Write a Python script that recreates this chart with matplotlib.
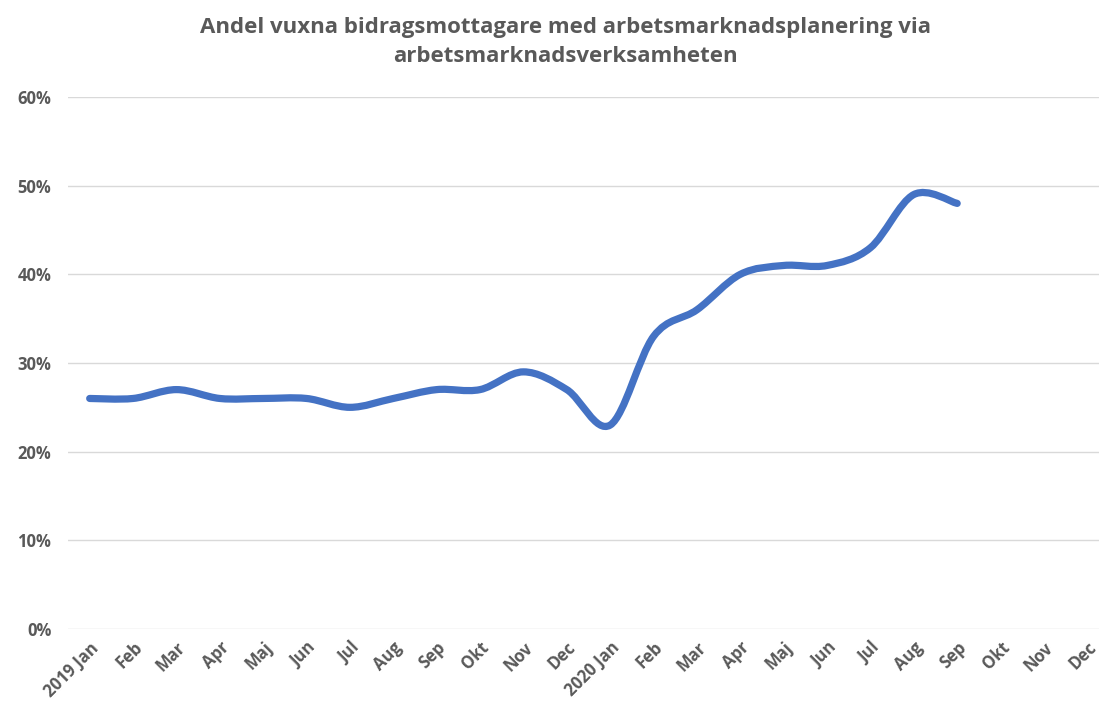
import numpy as np
import matplotlib
matplotlib.use("Agg")
import matplotlib.pyplot as plt
from matplotlib.path import Path
from matplotlib.patches import PathPatch
from matplotlib.ticker import PercentFormatter

# Data
months = ["Jan", "Feb", "Mar", "Apr", "Maj", "Jun", "Jul", "Aug", "Sep", "Okt", "Nov", "Dec"]
categories = ["2019 Jan"] + months[1:] + ["2020 Jan"] + months[1:]
share = [26, 26, 27, 26, 26, 26, 25, 26, 27, 27, 29, 27,
         23, 33, 36, 40, 41, 41, 43, 49, 48]
title = "Andel vuxna bidragsmottagare med arbetsmarknadsplanering via\narbetsmarknadsverksamheten"

GREY = "#595959"
BLUE = "#4472C4"

fig = plt.figure(figsize=(10.99, 7.16), dpi=100)
ax = fig.add_axes([68 / 1099, 87 / 716, (1109 - 68) / 1099, (629 - 97) / 716])

# smoothed line, Excel style (Catmull-Rom as cubic Bezier)
x = np.arange(len(share), dtype=float)
y = np.array(share, dtype=float)
verts = [(x[0], y[0])]
codes = [Path.MOVETO]
n = len(x)
for i in range(n - 1):
    p0 = np.array([x[max(i - 1, 0)], y[max(i - 1, 0)]])
    p1 = np.array([x[i], y[i]])
    p2 = np.array([x[i + 1], y[i + 1]])
    p3 = np.array([x[min(i + 2, n - 1)], y[min(i + 2, n - 1)]])
    c1 = p1 + (p2 - p0) / 6
    c2 = p2 - (p3 - p1) / 6
    verts += [tuple(c1), tuple(c2), tuple(p2)]
    codes += [Path.CURVE4] * 3
ax.add_patch(PathPatch(Path(verts, codes), fill=False, edgecolor=BLUE,
                       lw=5.2, capstyle="round", joinstyle="round", zorder=3))

ax.set_xlim(-0.5, len(categories) - 0.5)
ax.set_ylim(0, 60)
ax.set_yticks(range(0, 61, 10))
ax.yaxis.set_major_formatter(PercentFormatter(decimals=0))
ax.set_xticks(range(len(categories)))
ax.set_xticklabels(categories, rotation=45, ha="right", rotation_mode="anchor")

ax.grid(axis="y", color="#D9D9D9", lw=1)
ax.set_axisbelow(True)
for s in ax.spines.values():
    s.set_visible(False)
ax.tick_params(length=0, colors=GREY, labelsize=12)
ax.tick_params(axis="y", pad=12)
ax.tick_params(axis="x", pad=7)
for lab in ax.get_xticklabels() + ax.get_yticklabels():
    lab.set_fontfamily(["Open Sans", "DejaVu Sans"])
    lab.set_fontweight("bold")
    lab.set_color(GREY)

fig.text(565 / 1099, 1 - 42 / 716, title, ha="center", va="center", color=GREY,
         fontsize=16, fontweight="bold", linespacing=1.45,
         family=["Open Sans", "DejaVu Sans"])

fig.savefig("out.png", dpi=100)
